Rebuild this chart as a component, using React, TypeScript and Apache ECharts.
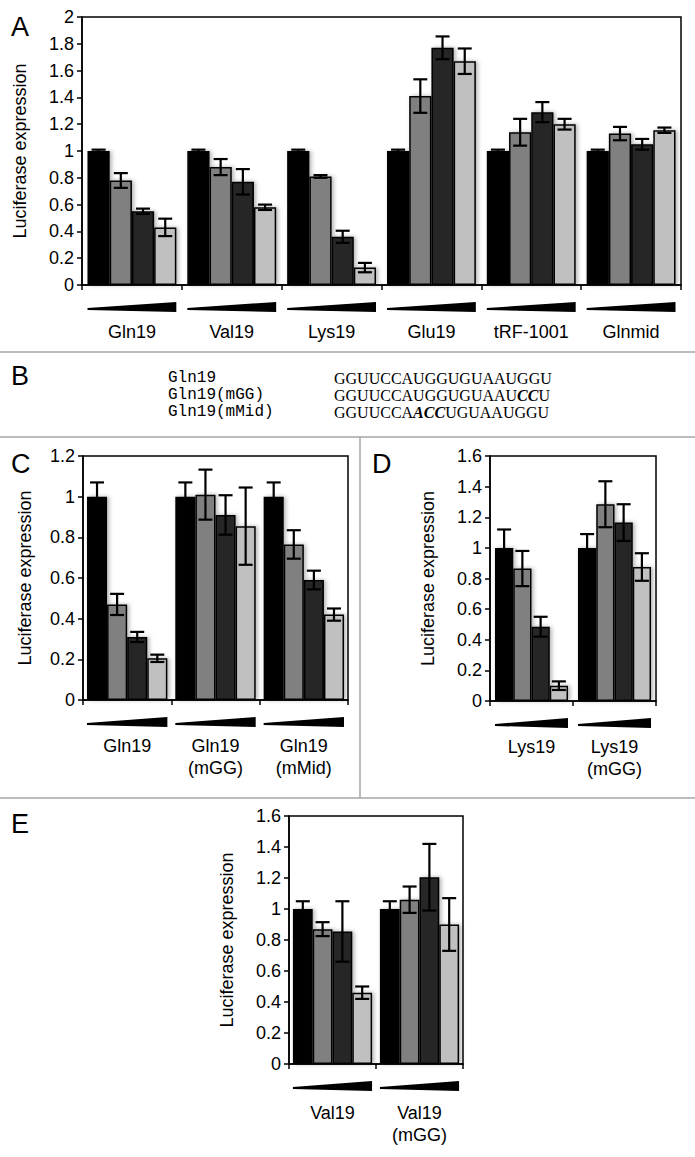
import React, { useEffect, useRef } from 'react';
import * as echarts from 'echarts';

// ---- Panel A ----
const catsA = ['Gln19', 'Val19', 'Lys19', 'Glu19', 'tRF-1001', 'Glnmid'];
const aDose1 = [1, 1, 1, 1, 1, 1];
const aErr1 = [0.01, 0.01, 0.01, 0.01, 0.01, 0.01];
const aDose2 = [0.78, 0.88, 0.81, 1.41, 1.14, 1.13];
const aErr2 = [0.055, 0.06, 0.01, 0.125, 0.1, 0.05];
const aDose3 = [0.55, 0.77, 0.36, 1.77, 1.29, 1.05];
const aErr3 = [0.02, 0.095, 0.045, 0.085, 0.075, 0.04];
const aDose4 = [0.43, 0.58, 0.13, 1.67, 1.2, 1.155];
const aErr4 = [0.065, 0.02, 0.035, 0.095, 0.04, 0.02];

// ---- Panel C ----
const catsC = ['Gln19', 'Gln19\n(mGG)', 'Gln19\n(mMid)'];
const cDose1 = [1, 1, 1];
const cErr1 = [0.07, 0.07, 0.07];
const cDose2 = [0.47, 1.01, 0.765];
const cErr2 = [0.052, 0.123, 0.07];
const cDose3 = [0.31, 0.91, 0.59];
const cErr3 = [0.025, 0.097, 0.046];
const cDose4 = [0.205, 0.855, 0.42];
const cErr4 = [0.018, 0.19, 0.03];

// ---- Panel D ----
const catsD = ['Lys19', 'Lys19\n(mGG)'];
const dDose1 = [1, 1];
const dErr1 = [0.12, 0.09];
const dDose2 = [0.865, 1.285];
const dErr2 = [0.115, 0.15];
const dDose3 = [0.485, 1.165];
const dErr3 = [0.065, 0.12];
const dDose4 = [0.1, 0.875];
const dErr4 = [0.028, 0.09];

// ---- Panel E ----
const catsE = ['Val19', 'Val19\n(mGG)'];
const eDose1 = [1, 1];
const eErr1 = [0.05, 0.05];
const eDose2 = [0.87, 1.06];
const eErr2 = [0.045, 0.085];
const eDose3 = [0.855, 1.205];
const eErr3 = [0.195, 0.215];
const eDose4 = [0.46, 0.9];
const eErr4 = [0.04, 0.17];

// ---- Panel B ----
const seqNames = ['Gln19', 'Gln19(mGG)', 'Gln19(mMid)'];
const seqTexts = ['GGUUCCAUGGUGUAAUGGU', 'GGUUCCAUGGUGUAAU{b|CC}U', 'GGUUCCA{b|ACC}UGUAAUGGU'];

const yTitle = 'Luciferase expression';
const barColors = ['#000000', '#808080', '#262626', '#c0c0c0'];
const FONT = 'Liberation Sans, Arial, Helvetica, sans-serif';
const FS = 18;

function panelSeries(gi: number, cats: string[], vals: number[][], errs: number[][], gapFrac: number) {
  const series: any[] = [];
  const gapStr = Math.round(gapFrac * 100) + '%';
  for (let k = 0; k < 4; k++) {
    series.push({
      type: 'bar',
      xAxisIndex: gi,
      yAxisIndex: gi,
      data: vals[k],
      barGap: '0%',
      barCategoryGap: gapStr,
      itemStyle: {
        color: barColors[k],
        borderColor: '#000',
        borderWidth: 1.5,
        shadowColor: 'rgba(0,0,0,0.3)',
        shadowBlur: 4,
        shadowOffsetX: 2,
      },
      z: 2,
    });
  }
  for (let k = 0; k < 4; k++) {
    series.push({
      type: 'custom',
      xAxisIndex: gi,
      yAxisIndex: gi,
      clip: false,
      z: 5,
      encode: { x: 0, y: 1 },
      data: cats.map((_, i) => [i, vals[k][i], errs[k][i]]),
      renderItem: (params: any, api: any) => {
        const ci = api.value(0);
        const v = api.value(1);
        const e = api.value(2);
        const w = api.size([1, 0])[0];
        const groupW = w * (1 - gapFrac);
        const bw = groupW / 4;
        const cx = api.coord([ci, 0])[0] - groupW / 2 + bw * (k + 0.5);
        const yT = api.coord([ci, v + e])[1];
        const yB = api.coord([ci, v - e])[1];
        const cap = 7;
        const st = { stroke: '#000', lineWidth: 2.2 };
        return {
          type: 'group',
          children: [
            { type: 'line', shape: { x1: cx, y1: yT, x2: cx, y2: yB }, style: st },
            { type: 'line', shape: { x1: cx - cap, y1: yT, x2: cx + cap, y2: yT }, style: st },
            { type: 'line', shape: { x1: cx - cap, y1: yB, x2: cx + cap, y2: yB }, style: st },
          ],
        };
      },
    });
  }
  series.push({
    type: 'custom',
    xAxisIndex: gi,
    yAxisIndex: gi,
    clip: false,
    z: 5,
    encode: { x: 0, y: 1 },
    data: cats.map((_, i) => [i, 0]),
    renderItem: (params: any, api: any) => {
      const i = api.value(0);
      const p = api.coord([i, 0]);
      const w = api.size([1, 0])[0];
      const half = (w * (1 - gapFrac)) / 2;
      const l = p[0] - half;
      const r = p[0] + half;
      const y = p[1];
      return {
        type: 'polygon',
        shape: { points: [[l, y + 23], [r, y + 17], [r, y + 27], [l, y + 25]] },
        style: { fill: '#000' },
      };
    },
  });
  return series;
}

function xAxisFor(gi: number, cats: string[], margin: number) {
  return {
    type: 'category',
    gridIndex: gi,
    data: cats,
    axisLine: { show: true, lineStyle: { color: '#000', width: 1.5 } },
    axisTick: { show: true, length: 5, interval: 0, lineStyle: { color: '#000', width: 1.5 } },
    axisLabel: { interval: 0, margin, fontSize: FS, lineHeight: 22, color: '#000', fontFamily: FONT },
  };
}

function yAxisFor(gi: number, max: number, nameGap: number) {
  return {
    type: 'value',
    gridIndex: gi,
    min: 0,
    max,
    interval: 0.2,
    name: yTitle,
    nameLocation: 'middle',
    nameRotate: 90,
    nameGap,
    nameTextStyle: { fontSize: FS, color: '#000', fontFamily: FONT },
    axisLine: { show: true, lineStyle: { color: '#000', width: 1.5 } },
    axisTick: { show: true, length: 5, lineStyle: { color: '#000', width: 1.5 } },
    axisLabel: { fontSize: FS, color: '#000', margin: 8, fontFamily: FONT },
    splitLine: { show: false },
  };
}

const gridStyle = { show: true, borderColor: '#000', borderWidth: 1.5, backgroundColor: 'transparent', containLabel: false };

export default function App() {
  const ref = useRef<HTMLDivElement>(null);
  useEffect(() => {
    if (!ref.current) return;
    const chart = echarts.init(ref.current, undefined, { renderer: 'svg' });
    const sepStyle = { stroke: '#a6a6a6', lineWidth: 1.5 };
    const letter = (t: string, x: number, y: number) => ({
      type: 'text',
      x,
      y,
      style: { text: t, fontSize: 27, fill: '#000', fontFamily: FONT, verticalAlign: 'middle' },
    });
    const graphics: any[] = [
      { type: 'line', shape: { x1: 0, y1: 352, x2: 695, y2: 352 }, style: sepStyle },
      { type: 'line', shape: { x1: 0, y1: 437, x2: 695, y2: 437 }, style: sepStyle },
      { type: 'line', shape: { x1: 360, y1: 437, x2: 360, y2: 798 }, style: sepStyle },
      { type: 'line', shape: { x1: 0, y1: 798, x2: 695, y2: 798 }, style: sepStyle },
      letter('A', 11, 27),
      letter('B', 11, 376),
      letter('C', 11, 464),
      letter('D', 372, 464),
      letter('E', 11, 824),
    ];
    seqNames.forEach((n, i) => {
      graphics.push({
        type: 'text',
        x: 168,
        y: 378 + i * 17,
        style: { text: n, fontSize: 16, fill: '#000', fontFamily: 'Liberation Mono, Courier New, monospace', verticalAlign: 'middle' },
      });
      graphics.push({
        type: 'text',
        x: 334,
        y: 378 + i * 17,
        style: {
          text: seqTexts[i],
          fontSize: 16,
          fill: '#000',
          fontFamily: 'Liberation Serif, Times New Roman, serif',
          verticalAlign: 'middle',
          rich: {
            b: { fontSize: 16, fontWeight: 'bold', fontStyle: 'italic', fill: '#000', fontFamily: 'Liberation Serif, Times New Roman, serif' },
          },
        },
      });
    });

    const option: any = {
      animation: false,
      textStyle: { fontFamily: FONT },
      grid: [
        { left: 82, top: 17, width: 599, height: 268, ...gridStyle },
        { left: 83, top: 456, width: 265, height: 244, ...gridStyle },
        { left: 490, top: 456, width: 166, height: 245, ...gridStyle },
        { left: 289, top: 816, width: 174, height: 248, ...gridStyle },
      ],
      xAxis: [xAxisFor(0, catsA, 36), xAxisFor(1, catsC, 35), xAxisFor(2, catsD, 35), xAxisFor(3, catsE, 38)],
      yAxis: [yAxisFor(0, 2, 53), yAxisFor(1, 1.2, 49), yAxisFor(2, 1.6, 53), yAxisFor(3, 1.6, 53)],
      series: [
        ...panelSeries(0, catsA, [aDose1, aDose2, aDose3, aDose4], [aErr1, aErr2, aErr3, aErr4], 0.11),
        ...panelSeries(1, catsC, [cDose1, cDose2, cDose3, cDose4], [cErr1, cErr2, cErr3, cErr4], 0.09),
        ...panelSeries(2, catsD, [dDose1, dDose2, dDose3, dDose4], [dErr1, dErr2, dErr3, dErr4], 0.12),
        ...panelSeries(3, catsE, [eDose1, eDose2, eDose3, eDose4], [eErr1, eErr2, eErr3, eErr4], 0.09),
      ],
      graphic: graphics,
    };
    chart.setOption(option);
    return () => chart.dispose();
  }, []);
  return <div ref={ref} style={{ position: 'absolute', left: 0, top: 0, width: 695, height: 1157, background: '#fff' }} />;
}
